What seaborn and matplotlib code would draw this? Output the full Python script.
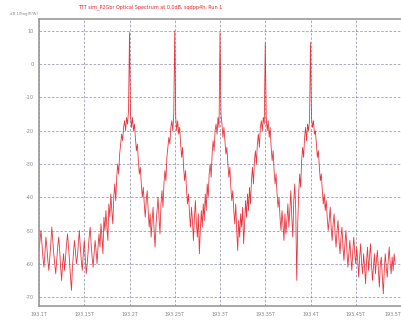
import numpy as np
import pandas as pd
import matplotlib
matplotlib.use("Agg")
import matplotlib.pyplot as plt
import seaborn as sns

# ---- data ----
freq_start_thz = 193.1
freq_step_thz = 0.05 / 46.0          # sample spacing of the trace
power_db = [
    # left noise floor
    -56, -53, -50, -54, -58, -61, -57, -52, -55, -59,
    -62, -58, -54, -49, -53, -57, -60, -63, -59, -55,
    -52, -56, -61, -65, -60, -57, -62, -58, -54, -51,
    -55, -59, -64, -68, -61, -57, -53, -56, -60, -58,
    -54, -50, -55, -59, -62, -57, -53, -58, -63, -60,
    -56, -52, -49, -54, -58, -61, -57, -53, -56, -60, -55,
    # rise to first line
    -51, -55, -48, -52, -57, -46, -50, -44, -49, -53, -42, -46, -39, -44, -48,
    -40, -36, -41, -34, -30, -33, -27, -24, -21, -23, -19, -17, -20, -16, -18, -14,
    9.5,
    -15, -19, -16, -20, -18, -22, -26, -24, -29, -33, -31, -36, -40, -37, -42,
    -46, -41, -38, -44, -49, -45, -52, -47, -43, -50, -55, -48, -44, -40, -46,
    -51, -42, -38, -43, -36, -32, -35, -28, -25, -22, -24, -19, -17, -20, -15,
    10,
    -16, -20, -17, -21, -19, -24, -28, -25, -31, -35, -32, -38, -42, -39, -45,
    -49, -43, -47, -53, -46, -41, -48, -52, -45, -57, -50, -44, -49, -42, -47,
    -39, -44, -36, -40, -33, -30, -34, -27, -23, -26, -20, -18, -21, -16, -19,
    9.5,
    -15, -18, -22, -19, -23, -27, -25, -30, -34, -31, -37, -41, -38, -44, -48,
    -42, -50, -56, -47, -52, -45, -49, -43, -54, -48, -41, -46, -39, -44, -37,
    -42, -35, -31, -36, -29, -26, -30, -24, -21, -25, -19, -17, -20, -16, -18,
    6.5,
    -16, -20, -17, -22, -19, -25, -29, -26, -32, -36, -33, -39, -43, -40, -46,
    -50, -44, -48, -53, -45, -51, -47, -42, -49, -44, -38, -46, -52, -41, -36,
    -44, -65, -48, -39, -33, -37, -29, -25, -28, -22, -19, -23, -18, -20, -17,
    6.5,
    # fall to right noise floor
    -16, -19, -17, -21, -20, -24, -28, -26, -31, -35, -33, -38, -42, -39, -44,
    -41, -46, -50, -47, -43, -49, -53, -48, -45, -51, -55, -50, -47, -53, -57,
    -52, -49, -55, -59, -54, -50, -56, -61, -57, -53, -58, -62, -56, -52, -57,
    -60, -55, -59, -64, -58, -54, -60, -63, -57, -61, -66, -59, -55, -62, -58,
    -54, -60, -65, -61, -57, -63, -59, -56, -62, -67, -60, -58, -64, -69, -62,
    -57, -61, -64, -59, -55, -60, -63, -58, -62, -57, -60,
]
x_ticks = [193.1, 193.15, 193.2, 193.25, 193.3, 193.35, 193.4, 193.45, 193.5]
x_tick_labels = ["193.1T", "193.15T", "193.2T", "193.25T", "193.3T",
                 "193.35T", "193.4T", "193.45T", "193.5T"]
y_ticks = [10, 0, -10, -20, -30, -40, -50, -60, -70]
y_tick_labels = ["10", "0", "-10", "-20", "-30", "-40", "-50", "-60", "-70"]
title_text = "TTT sim_P2Gbr Optical Spectrum at 0.0dB, sqdpp4h, Run 1"
ylabel_text = "dB 10log(P/W)"

freq = freq_start_thz + freq_step_thz * np.arange(len(power_db))
df = pd.DataFrame({"freq": freq, "power": power_db})

sns.set_style("white")
plt.rcParams["font.family"] = ["DejaVu Sans"]

fig = plt.figure(figsize=(4.01, 3.20), dpi=100)
ax = fig.add_axes([39 / 401, 14 / 320, 362 / 401, 287 / 320])

sns.lineplot(data=df, x="freq", y="power", ax=ax, color="#e8202a",
             linewidth=0.6, alpha=0.9)

ax.set_xlim(freq_start_thz, freq_start_thz + 362 / 46 * 0.05)
ax.set_ylim(-72.7, 13.6)
ax.set_xticks(x_ticks)
ax.set_xticklabels(x_tick_labels)
ax.set_yticks(y_ticks)
ax.set_yticklabels(y_tick_labels)
ax.set_xlabel("")
ax.set_ylabel("")

ax.grid(True, color="#5a5a8a", linestyle=(0, (3, 2)), linewidth=0.6, alpha=0.6)
ax.tick_params(axis="both", labelsize=3.5, colors="#888888", length=2, width=0.6, pad=2)
for lbl in ax.get_xticklabels() + ax.get_yticklabels():
    lbl.set_color("#888888")
ax.get_xticklabels()[-1].set_ha("right")
for side in ["left", "bottom", "top"]:
    ax.spines[side].set_color("#999999")
    ax.spines[side].set_linewidth(1.2)
ax.spines["right"].set_visible(False)

fig.text(78 / 401, 1 - 7 / 320, title_text, color="#e8202a", fontsize=3.5,
         ha="left", va="center")
fig.text(10 / 401, 1 - 14 / 320, ylabel_text, color="#888888", fontsize=2.8,
         ha="left", va="center")

fig.savefig("out.png", dpi=100)
